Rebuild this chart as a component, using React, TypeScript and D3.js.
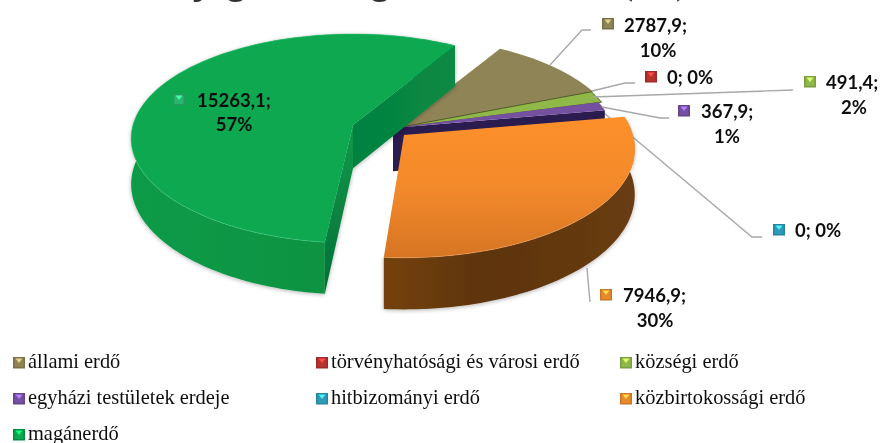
import React from "react";
import * as d3 from "d3";

const categories = ["állami erdő", "törvényhatósági és városi erdő", "községi erdő", "egyházi testületek erdeje", "hitbizományi erdő", "közbirtokossági erdő", "magánerdő"];
const values = [2787.9, 0, 491.4, 367.9, 0, 7946.9, 15263.1];
const valueLabels = ["2787,9;", "0; 0%", "491,4;", "367,9;", "0; 0%", "7946,9;", "15263,1;"];
const percentLabels = ["10%", "", "2%", "1%", "", "30%", "57%"];
const colors = ["#8f8456", "#b8302f", "#8fb849", "#7450a0", "#2f9bb8", "#fb8f2a", "#07a84f"];
const titleGlyphs = ["j", "g", "g", ",", "(", ")"];

// layout
const W = 880, H = 443;
const A = 220, B = 102.8, K = 0.129, DEPTH = 45;
const START = (31 * Math.PI) / 180;
const ORANGE_TRIM = (2 * Math.PI) / 180;
const sliceCenter: [number, number, number][] = [
  [398, 128, 1], [397, 128, 1], [396, 128, 1], [393, 128, 1], [393, 128, 1], [404, 135, 1.04], [353, 125, 1],
];
const titleX = [200, 236, 380, 522, 627, 682];
const markerPos = [[602, 18], [645, 71], [804, 76], [678, 105], [773, 224], [600, 289], [173, 94]];
const valuePos = [[624, 32], [667, 84], [826, 89], [701, 118], [795, 237], [623, 302], [197, 107]];
const percentPos = [[658, 57], null, [854, 114], [727, 143], null, [655, 327], [234, 131]];
const leaders: [number, number][][] = [
  [[550, 65], [582, 30], [591, 30]],
  [[592, 91], [625, 83], [635, 83]],
  [[593, 97], [793, 90]],
  [[602, 107], [660, 118], [669, 118]],
  [[604, 113], [752, 237], [762, 237]],
  [[587, 268], [590, 302]],
];
const legendCols = d3.scaleOrdinal<number, number>().domain([0, 1, 2]).range([13, 316, 620]);
const legendRows = d3.scaleLinear().domain([0, 2]).range([368, 440]);

const lineGen = d3.line<[number, number]>();
const pieGen = d3.pie<number>().sort(null).startAngle(START).endAngle(START + 2 * Math.PI);

function project(c: [number, number, number], t: number): [number, number] {
  const w = 1 + K * Math.cos(t);
  return [c[0] + (c[2] * A * Math.sin(t)) / w, c[1] - (c[2] * B * Math.cos(t)) / w];
}
function down(p: [number, number], c: [number, number, number], t: number): [number, number] {
  return [p[0], p[1] + DEPTH / (1 + K * Math.cos(t))];
}
function arcPts(c: [number, number, number], a: number, b: number) {
  const n = Math.max(2, Math.ceil((b - a) * 40));
  return d3.range(n + 1).map((i) => a + ((b - a) * i) / n);
}

function Marker({ x, y, color }: { x: number; y: number; color: string }) {
  const dark = d3.color(color)!.darker(0.45).formatHex();
  const light = d3.color(color)!.brighter(1.3).formatHex();
  return (
    <g>
      <rect x={x} y={y} width={12} height={11.5} fill={dark} />
      <rect x={x + 1.5} y={y + 1.5} width={9} height={8.5} fill={color} />
      <path d={`M${x + 2.5} ${y + 1.5}H${x + 9.5}L${x + 6} ${y + 6}Z`} fill={light} />
    </g>
  );
}

export default function App() {
  const arcs = pieGen(values);
  const GREEN = 6, ORANGE = 5, PURPLE = 3;
  const endOf = (i: number) => arcs[i].endAngle - (i === ORANGE ? ORANGE_TRIM : 0);
  const top = (i: number) => {
    const c = sliceCenter[i];
    const pts = arcPts(c, arcs[i].startAngle, endOf(i)).map((t) => project(c, t));
    return lineGen([[c[0], c[1]], ...pts]) + "Z";
  };
  const side = (i: number) => {
    const c = sliceCenter[i];
    const ts = arcPts(c, arcs[i].startAngle, endOf(i));
    const a = ts.map((t) => project(c, t));
    const b = ts.map((t) => down(project(c, t), c, t)).reverse();
    return lineGen([...a, ...b]) + "Z";
  };
  const rim = (i: number) => {
    const c = sliceCenter[i];
    return lineGen(arcPts(c, arcs[i].startAngle, endOf(i)).map((t) => project(c, t))) || "";
  };
  const face = (i: number, t: number) => {
    const c = sliceCenter[i];
    const p = project(c, t);
    const q = down(p, c, t);
    const o: [number, number] = [c[0], c[1]];
    const od: [number, number] = [c[0], c[1] + DEPTH * 0.96];
    return lineGen([o, p, q, od]) + "Z";
  };
  return (
    <svg width={W} height={H} viewBox={`0 0 ${W} ${H}`} style={{ position: "absolute", left: 0, top: 0, background: "#fff" }}>
      <defs>
        <filter id="soft" x="-2%" y="-2%" width="104%" height="104%"><feGaussianBlur stdDeviation="0.45" /></filter>
        <filter id="shadow" x="-5%" y="-5%" width="110%" height="110%">
          <feDropShadow dx="0" dy="1" stdDeviation="2" floodColor="#000" floodOpacity="0.3" />
        </filter>
        <linearGradient id="orangeTop" x1="0" y1="0" x2="0" y2="1">
          <stop offset="0" stopColor="#fd902a" /><stop offset="0.5" stopColor="#f3892b" /><stop offset="1" stopColor="#d67524" />
        </linearGradient>
        <linearGradient id="orangeSide" x1="0" y1="0" x2="1" y2="0">
          <stop offset="0" stopColor="#74410f" /><stop offset="0.4" stopColor="#5e340f" /><stop offset="1" stopColor="#683c12" />
        </linearGradient>
        <linearGradient id="greenSide" x1="0" y1="0" x2="1" y2="0">
          <stop offset="0" stopColor="#0c9b47" /><stop offset="0.6" stopColor="#0a9342" /><stop offset="1" stopColor="#016b34" />
        </linearGradient>
        <linearGradient id="greenFace" x1="0" y1="0" x2="1" y2="0">
          <stop offset="0" stopColor="#05813f" /><stop offset="1" stopColor="#088a44" />
        </linearGradient>
        <linearGradient id="greenFace2" x1="0" y1="0" x2="0" y2="1">
          <stop offset="0" stopColor="#0c9a4a" /><stop offset="1" stopColor="#046f37" />
        </linearGradient>
      </defs>
      <g filter="url(#soft)">
        <g fontFamily="'Liberation Serif'" fontWeight={700} fontSize={36} fill="#333" textAnchor="middle">
          {titleGlyphs.map((g, i) => <text key={i} x={titleX[i]} y={-6}>{g}</text>)}
        </g>

        <g fill="none" stroke="#a8a8a8" strokeWidth={1.4}>
          {leaders.slice(4, 5).map((l, i) => <path key={i} d={lineGen(l) || ""} />)}
        </g>

        {/* small back slices */}
        <path d={top(0)} fill={colors[0]} />
        <path d={top(2)} fill={colors[2]} stroke="#3f4a1c" strokeWidth={0.8} />
        <path d={face(PURPLE, arcs[PURPLE].endAngle)} fill="#2a1a50" />
        <path d={top(PURPLE)} fill={colors[PURPLE]} />

        {/* orange */}
        <g filter="url(#shadow)"><path d={side(ORANGE)} fill="url(#orangeSide)" /></g>
        <path d={top(ORANGE)} fill="url(#orangeTop)" />
        <path d={rim(ORANGE)} fill="none" stroke="#ffb066" strokeOpacity={0.45} strokeWidth={1} />

        {/* green */}
        <g filter="url(#shadow)">
          <path d={side(GREEN)} fill="url(#greenSide)" />
          <path d={face(GREEN, arcs[GREEN].startAngle)} fill="url(#greenFace2)" />
          <path d={face(GREEN, arcs[GREEN].endAngle)} fill="url(#greenFace)" />
        </g>
        <path d={top(GREEN)} fill={colors[GREEN]} />
        <path d={rim(GREEN)} fill="none" stroke="#4fd08a" strokeOpacity={0.5} strokeWidth={1} />

        <g fill="none" stroke="#a8a8a8" strokeWidth={1.4}>
          {leaders.filter((_, i) => i !== 4).map((l, i) => <path key={i} d={lineGen(l) || ""} />)}
        </g>

        {/* data labels */}
        {categories.map((_, i) => (
          <g key={i}>
            <Marker x={markerPos[i][0]} y={markerPos[i][1]} color={i === GREEN ? "#2bb56e" : i === ORANGE ? "#e88a2c" : colors[i]} />
            <text x={valuePos[i][0]} y={valuePos[i][1]} fontFamily="Lato" fontWeight={700} fontSize={18.5} fill="#111">{valueLabels[i]}</text>
            {percentPos[i] && (
              <text x={percentPos[i]![0]} y={percentPos[i]![1]} textAnchor="middle" fontFamily="Lato" fontWeight={700} fontSize={18.5} fill="#111">{percentLabels[i]}</text>
            )}
          </g>
        ))}

        {/* legend */}
        {categories.map((name, i) => {
          const col = i % 3, row = Math.floor(i / 3);
          const x = legendCols(col), y = legendRows(row);
          return (
            <g key={name}>
              <Marker x={x} y={y - 11} color={i === ORANGE ? "#e88a2c" : colors[i]} />
              <text x={x + 15} y={y} fontFamily="'Liberation Serif'" fontSize={20.4} fill="#111">{name}</text>
            </g>
          );
        })}
      </g>
    </svg>
  );
}
